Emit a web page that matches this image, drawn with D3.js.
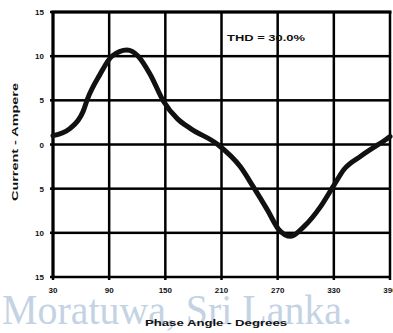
<!DOCTYPE html>
<html>
<head>
<meta charset="utf-8">
<script src="https://cdn.jsdelivr.net/npm/d3@7"></script>
<style>
  body { margin: 0; background: #fff; }
  svg { display: block; }
  .tick-label { font-family: "Liberation Sans", Arial, sans-serif; font-weight: bold; font-size: 8px; fill: #111; }
</style>
</head>
<body>
<svg id="svg"></svg>
<script>
// phase angle (degrees) and current (ampere)
const angles = [30, 48, 62, 67, 80, 93, 109, 121, 134, 148, 163, 177, 206, 230, 244, 259, 271, 284, 298, 316, 329, 341, 359, 386, 390];
const current = [1.0, 1.8, 3.7, 5.2, 7.9, 10.0, 10.7, 10.0, 7.9, 4.9, 2.9, 1.8, 0, -2.5, -4.8, -7.4, -9.6, -10.4, -9.3, -7.0, -4.8, -2.8, -1.3, 0.6, 0.9];
const xTicks = [30, 90, 150, 210, 270, 330, 390];
const yTicks = [15, 10, 5, 0, -5, -10, -15];
const yTickLabels = ['15', '10', '5', '0', '5', '10', '15'];

const W = 393, H = 333;
const margin = { top: 12, right: 3, bottom: 56, left: 53 };

const svg = d3.select('#svg').attr('width', W).attr('height', H);

// watermark behind everything
svg.append('text')
  .attr('x', 2)
  .attr('y', 324)
  .attr('textLength', 350)
  .attr('lengthAdjust', 'spacingAndGlyphs')
  .style('font-family', '"Liberation Serif", "Times New Roman", serif')
  .style('font-size', '42px')
  .style('fill', '#c3d3e4')
  .text('Moratuwa, Sri Lanka.');

const x = d3.scaleLinear().domain([30, 390]).range([margin.left, W - margin.right]);
const y = d3.scaleLinear().domain([-15, 15]).range([H - margin.bottom, margin.top]);

// grid as thin filled rects (vertical and horizontal bars)
svg.selectAll('rect.vg')
  .data(xTicks)
  .enter()
  .append('rect')
  .attr('class', 'vg')
  .attr('x', d => x(d) - 1.25)
  .attr('y', y(15))
  .attr('width', 2.5)
  .attr('height', y(-15) - y(15) + 3)
  .attr('fill', '#000');

svg.selectAll('rect.hg')
  .data(yTicks)
  .enter()
  .append('rect')
  .attr('class', 'hg')
  .attr('x', x(30) - 3)
  .attr('y', d => y(d) - 1.25)
  .attr('width', x(390) - x(30) + 4)
  .attr('height', 2.5)
  .attr('fill', '#000');

// thicker frame edges
svg.append('rect')
  .attr('x', x(30) - 1.5).attr('y', y(15) - 1.5)
  .attr('width', x(390) - x(30) + 3).attr('height', 3)
  .attr('fill', '#000');
svg.append('rect')
  .attr('x', x(30) - 1.5).attr('y', y(15))
  .attr('width', 3).attr('height', y(-15) - y(15))
  .attr('fill', '#000');

// tick labels
svg.selectAll('text.xl')
  .data(xTicks)
  .enter()
  .append('text')
  .attr('class', 'xl tick-label')
  .attr('x', d => x(d))
  .attr('y', y(-15) + 16)
  .attr('text-anchor', 'middle')
  .text(d => d);

svg.selectAll('text.yl')
  .data(yTicks)
  .enter()
  .append('text')
  .attr('class', 'yl tick-label')
  .attr('x', x(30) - 9)
  .attr('y', d => y(d) + 3)
  .attr('text-anchor', 'end')
  .text((d, i) => yTickLabels[i]);

// axis titles
svg.append('text')
  .attr('class', 'tick-label')
  .attr('transform', 'translate(18,142) rotate(-90)')
  .attr('text-anchor', 'middle')
  .attr('textLength', 118)
  .attr('lengthAdjust', 'spacingAndGlyphs')
  .style('font-size', '9px')
  .text('Current - Ampere');

svg.append('text')
  .attr('class', 'tick-label')
  .attr('x', 145)
  .attr('y', 326)
  .attr('textLength', 142)
  .attr('lengthAdjust', 'spacingAndGlyphs')
  .style('font-size', '9px')
  .text('Phase Angle - Degrees');

svg.append('text')
  .attr('class', 'tick-label')
  .attr('x', 227)
  .attr('y', 41)
  .attr('textLength', 78)
  .attr('lengthAdjust', 'spacingAndGlyphs')
  .style('font-size', '9px')
  .text('THD = 30.0%');

// current trace
const line = d3.line()
  .x((d, i) => x(angles[i]))
  .y(d => y(d))
  .curve(d3.curveMonotoneX);

svg.append('path')
  .datum(current)
  .attr('d', line)
  .attr('fill', 'none')
  .attr('stroke', '#111')
  .attr('stroke-width', 5)
  .attr('stroke-linecap', 'round')
  .attr('stroke-linejoin', 'round');
</script>
</body>
</html>
